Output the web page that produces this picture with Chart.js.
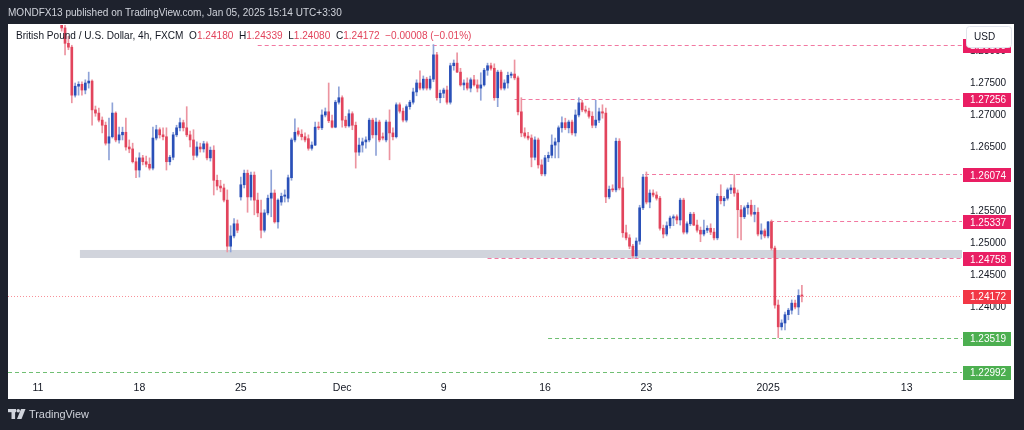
<!DOCTYPE html>
<html>
<head>
<meta charset="utf-8">
<script src="https://cdn.jsdelivr.net/npm/chart.js@4.4.1/dist/chart.umd.min.js"></script>
<style>
html,body{margin:0;padding:0;background:#1e222d;}
canvas{display:block;}
</style>
</head>
<body>
<canvas id="c" width="1024" height="430"></canvas>
<script>
// ---------------- DATA ----------------
// 4h candles, x = slot index (30 slots per trading week, slot 0 = Nov 11)
const firstSlot = 6;
const opens = [
1.2870,1.2858,1.2836,1.2812,1.2806,1.2731,1.2745,1.2748,1.2739,1.2750,
1.2753,1.2708,1.2703,1.2692,1.2684,1.2656,1.2666,1.2703,1.2661,1.2669,
1.2673,1.2650,1.2647,1.2627,1.2614,1.2633,1.2627,1.2623,1.2617,1.2664,
1.2677,1.2669,1.2666,1.2627,1.2634,1.2669,1.2680,1.2688,1.2680,1.2669,
1.2661,1.2637,1.2650,1.2647,1.2655,1.2633,1.2645,1.2598,1.2589,1.2586,
1.2567,1.2495,1.2511,1.2530,1.2572,1.2591,1.2609,1.2572,1.2606,1.2567,
1.2547,1.2520,1.2547,1.2570,1.2578,1.2533,1.2564,1.2573,1.2570,1.2602,
1.2661,1.2675,1.2670,1.2666,1.2663,1.2648,1.2653,1.2681,1.2680,1.2700,
1.2705,1.2691,1.2681,1.2720,1.2727,1.2692,1.2683,1.2702,1.2684,1.2642,
1.2653,1.2658,1.2661,1.2692,1.2669,1.2689,1.2666,1.2661,1.2689,1.2672,
1.2666,1.2716,1.2706,1.2692,1.2713,1.2720,1.2736,1.2750,1.2742,1.2756,
1.2742,1.2756,1.2794,1.2727,1.2734,1.2739,1.2720,1.2777,1.2781,1.2767,
1.2747,1.2750,1.2742,1.2755,1.2747,1.2742,1.2747,1.2770,1.2777,1.2773,
1.2727,1.2767,1.2742,1.2750,1.2762,1.2764,1.2758,1.2705,1.2672,1.2667,
1.2664,1.2634,1.2661,1.2622,1.2608,1.2633,1.2637,1.2653,1.2658,1.2680,
1.2688,1.2680,1.2689,1.2672,1.2700,1.2719,1.2708,1.2706,1.2698,1.2684,
1.2692,1.2705,1.2703,1.2572,1.2584,1.2583,1.2659,1.2586,1.2516,1.2508,
1.2495,1.2480,1.2503,1.2555,1.2603,1.2564,1.2578,1.2575,1.2570,1.2523,
1.2514,1.2527,1.2539,1.2541,1.2536,1.2567,1.2517,1.2530,1.2545,1.2528,
1.2520,1.2514,1.2520,1.2523,1.2517,1.2508,1.2573,1.2566,1.2570,1.2583,
1.2586,1.2578,1.2552,1.2541,1.2555,1.2559,1.2545,1.2548,1.2514,1.2519,
1.2511,1.2533,1.2492,1.2403,1.2369,1.2375,1.2388,1.2395,1.2406,1.2400,
1.24180
];
const highs = [
1.2885,1.2866,1.2840,1.2823,1.2809,1.2750,1.2752,1.2752,1.2755,1.2767,
1.2755,1.2714,1.2711,1.2697,1.2689,1.2695,1.2719,1.2705,1.2681,1.2681,
1.2695,1.2661,1.2656,1.2633,1.2641,1.2637,1.2636,1.2633,1.2681,1.2684,
1.2680,1.2680,1.2680,1.2637,1.2673,1.2684,1.2695,1.2692,1.2713,1.2675,
1.2677,1.2658,1.2656,1.2659,1.2658,1.2650,1.2652,1.2606,1.2598,1.2592,
1.2583,1.2527,1.2538,1.2536,1.2603,1.2614,1.2614,1.2611,1.2611,1.2578,
1.2567,1.2552,1.2575,1.2614,1.2583,1.2569,1.2578,1.2583,1.2606,1.2664,
1.2694,1.2680,1.2677,1.2672,1.2669,1.2658,1.2689,1.2689,1.2708,1.2711,
1.2750,1.2700,1.2723,1.2744,1.2730,1.2698,1.2708,1.2705,1.2689,1.2664,
1.2664,1.2666,1.2695,1.2695,1.2695,1.2692,1.2672,1.2692,1.2708,1.2680,
1.2719,1.2719,1.2711,1.2716,1.2723,1.2742,1.2755,1.2769,1.2761,1.2759,
1.2761,1.2810,1.2798,1.2739,1.2742,1.2745,1.2781,1.2786,1.2797,1.2773,
1.2755,1.2758,1.2758,1.2762,1.2755,1.2766,1.2773,1.2781,1.2781,1.2780,
1.2770,1.2770,1.2755,1.2767,1.2767,1.2786,1.2761,1.2727,1.2680,1.2673,
1.2669,1.2666,1.2664,1.2630,1.2637,1.2642,1.2669,1.2664,1.2683,1.2697,
1.2695,1.2692,1.2692,1.2708,1.2727,1.2723,1.2714,1.2711,1.2705,1.2723,
1.2711,1.2716,1.2711,1.2589,1.2591,1.2664,1.2663,1.2603,1.2528,1.2513,
1.2498,1.2508,1.2559,1.26074,1.2611,1.2583,1.2583,1.2580,1.2573,1.2528,
1.2533,1.2542,1.2544,1.2544,1.2570,1.2570,1.2533,1.2548,1.2548,1.2536,
1.2525,1.2536,1.2527,1.2530,1.2523,1.2577,1.2591,1.2573,1.2586,1.2591,
1.2607,1.2583,1.2559,1.2558,1.2563,1.2567,1.2559,1.2555,1.2530,1.2522,
1.25337,1.2536,1.2495,1.2411,1.2380,1.2392,1.2398,1.2411,1.2411,1.2427,
1.24339
];
const lows = [
1.2852,1.2831,1.2794,1.2802,1.2719,1.2728,1.2731,1.2731,1.2733,1.2742,
1.2684,1.2698,1.2689,1.2672,1.2653,1.2630,1.2664,1.2658,1.2656,1.2661,
1.2645,1.2641,1.2625,1.2602,1.2603,1.2622,1.2619,1.2614,1.2614,1.2661,
1.2664,1.2661,1.2614,1.2622,1.2630,1.2666,1.2675,1.2675,1.2666,1.2650,
1.2630,1.2634,1.2642,1.2642,1.2630,1.2628,1.2575,1.2583,1.2580,1.2564,
1.2486,1.2486,1.2508,1.2516,1.2567,1.2586,1.2548,1.2567,1.2544,1.2541,
1.2508,1.2517,1.2544,1.2541,1.2531,1.2523,1.2559,1.2564,1.2564,1.2598,
1.2658,1.2667,1.2661,1.2658,1.2645,1.2645,1.2652,1.2677,1.2677,1.2697,
1.2688,1.2680,1.2680,1.2717,1.2681,1.2680,1.2681,1.2677,1.2617,1.2637,
1.2642,1.2648,1.2658,1.2664,1.2637,1.2658,1.2661,1.2658,1.2630,1.2661,
1.2664,1.2703,1.2689,1.2689,1.2709,1.2717,1.2730,1.2739,1.2739,1.2739,
1.2739,1.2752,1.2723,1.2719,1.2727,1.2717,1.2717,1.2770,1.2766,1.2745,
1.2739,1.2739,1.2736,1.2745,1.2736,1.2723,1.2745,1.2762,1.2770,1.2723,
1.2713,1.2739,1.2739,1.2742,1.2758,1.2755,1.2700,1.2666,1.2664,1.2661,
1.2619,1.2630,1.2617,1.2605,1.2605,1.2627,1.2633,1.2633,1.2633,1.2673,
1.2677,1.2672,1.2669,1.2667,1.2697,1.2705,1.2703,1.2695,1.2680,1.2680,
1.2688,1.2695,1.2563,1.2569,1.2580,1.2580,1.2583,1.2509,1.2505,1.2491,
1.24758,1.2477,1.2498,1.2552,1.2561,1.2555,1.2572,1.2567,1.2520,1.2508,
1.2511,1.2523,1.2527,1.2530,1.2528,1.2514,1.2514,1.2527,1.2527,1.2517,
1.2502,1.2511,1.2516,1.2513,1.2505,1.2505,1.2561,1.2558,1.2567,1.2577,
1.2573,1.2508,1.2505,1.2538,1.2545,1.2542,1.2533,1.2511,1.2506,1.2508,
1.2508,1.2489,1.2398,1.23519,1.2364,1.2364,1.2380,1.2389,1.2397,1.2388,
1.24080
];
const closes = [
1.2858,1.2836,1.2812,1.2806,1.2731,1.2745,1.2748,1.2739,1.2750,1.2753,
1.2708,1.2703,1.2692,1.2684,1.2656,1.2666,1.2703,1.2661,1.2669,1.2673,
1.2650,1.2647,1.2627,1.2614,1.2633,1.2627,1.2623,1.2617,1.2664,1.2677,
1.2669,1.2666,1.2627,1.2634,1.2669,1.2680,1.2688,1.2680,1.2669,1.2661,
1.2637,1.2650,1.2647,1.2655,1.2633,1.2645,1.2598,1.2589,1.2586,1.2567,
1.2495,1.2511,1.2530,1.2520,1.2591,1.2609,1.2572,1.2606,1.2567,1.2547,
1.2520,1.2547,1.2570,1.2578,1.2533,1.2567,1.2573,1.2575,1.2602,1.2661,
1.2673,1.2670,1.2666,1.2661,1.2648,1.2653,1.2681,1.2680,1.2700,1.2705,
1.2691,1.2681,1.2720,1.2727,1.2692,1.2683,1.2702,1.2684,1.2642,1.2653,
1.2658,1.2661,1.2692,1.2669,1.2689,1.2661,1.2664,1.2689,1.2672,1.2666,
1.2716,1.2706,1.2692,1.2713,1.2720,1.2736,1.2750,1.2742,1.2756,1.2742,
1.2756,1.2794,1.2727,1.2734,1.2739,1.2720,1.2777,1.2781,1.2767,1.2747,
1.2750,1.2742,1.2755,1.2747,1.2742,1.2747,1.2770,1.2777,1.2773,1.2727,
1.2767,1.2742,1.2750,1.2762,1.2764,1.2758,1.2705,1.2672,1.2667,1.2664,
1.2634,1.2661,1.2622,1.2608,1.2633,1.2637,1.2653,1.2658,1.2680,1.2688,
1.2680,1.2689,1.2672,1.2700,1.2719,1.2708,1.2706,1.2698,1.2684,1.2692,
1.2705,1.2703,1.2572,1.2584,1.2583,1.2659,1.2586,1.2516,1.2508,1.2495,
1.2480,1.2503,1.2555,1.2603,1.2564,1.2578,1.2575,1.2570,1.2523,1.2514,
1.2527,1.2539,1.2541,1.2536,1.2567,1.2517,1.2530,1.2545,1.2528,1.2520,
1.2514,1.2520,1.2523,1.2517,1.2508,1.2573,1.2566,1.2570,1.2583,1.2586,
1.2578,1.2552,1.2541,1.2555,1.2559,1.2545,1.2548,1.2514,1.2519,1.2511,
1.2533,1.2492,1.2403,1.2369,1.2375,1.2388,1.2395,1.2406,1.2400,1.2418,
1.24172
];
// time axis
const tickSlots  = [0, 30, 60, 90, 120, 150, 180, 216, 257];
const tickLabels = ['11', '18', '25', 'Dec', '9', '16', '23', '2025', '13'];
// price axis
const priceTicks = [1.230, 1.235, 1.240, 1.245, 1.250, 1.255, 1.260, 1.265, 1.270, 1.275, 1.280];
// horizontal levels drawn on the chart
const levelPrices = [1.28100, 1.27256, 1.26074, 1.25337, 1.24758, 1.24172, 1.23519, 1.22992];
const levelStartSlots = [65, 141, 179.6, 216.6, 133, -9, 150.9, -9];
const levelKinds = ['res', 'res', 'res', 'res', 'res', 'last', 'sup', 'sup'];
// support zone
const zoneLow = 1.24766, zoneHigh = 1.24891, zoneStartSlot = 12.4;

const titleText = 'MONDFX13 published on TradingView.com, Jan 05, 2025 15:14 UTC+3:30';
const symbolText = 'British Pound / U.S. Dollar, 4h, FXCM';
const currency = 'USD';

// ---------------- STYLE ----------------
const UP = '#2a50b8', DOWN = '#e2445c';
const UPW = '#8fa3d8', DOWNW = '#ec94a0';
const KIND_COLOR = {res: '#e91e63', last: '#f23645', sup: '#4caf50'};
const FONT = '"Liberation Sans", Arial, sans-serif';

const xs = opens.map((_, i) => firstSlot + i);
const isUp = i => closes[i] >= opens[i];

function fitFont(ctx, text, weight, target, base) {
  ctx.font = weight + ' ' + base + 'px ' + FONT;
  const w = ctx.measureText(text).width;
  return base * target / w;
}

const decor = {
  id: 'decor',
  beforeDraw(chart) {
    const ctx = chart.ctx;
    ctx.save();
    ctx.fillStyle = '#1e222d';
    ctx.fillRect(0, 0, chart.width, chart.height);
    ctx.fillStyle = '#ffffff';
    ctx.fillRect(8, 24, 1006, 375);
    ctx.restore();
  },
  beforeDatasetsDraw(chart) {
    const ctx = chart.ctx, xS = chart.scales.x, yS = chart.scales.y, a = chart.chartArea;
    ctx.save();
    ctx.beginPath(); ctx.rect(a.left, a.top, a.right - a.left, a.bottom - a.top); ctx.clip();
    // zone
    const zx = xS.getPixelForValue(zoneStartSlot);
    const zt = yS.getPixelForValue(zoneHigh), zb = yS.getPixelForValue(zoneLow);
    ctx.fillStyle = '#d1d4dc';
    ctx.fillRect(zx, zt, a.right - zx, zb - zt);
    // level lines
    levelPrices.forEach((p, i) => {
      const y = Math.round(yS.getPixelForValue(p)) + 0.5;
      const x0 = Math.max(a.left, xS.getPixelForValue(levelStartSlots[i]));
      const k = levelKinds[i];
      ctx.beginPath();
      ctx.lineWidth = 1;
      if (k === 'last') { ctx.setLineDash([1, 2]); ctx.strokeStyle = 'rgba(242,54,69,0.55)'; }
      else if (k === 'sup') { ctx.setLineDash([4, 3]); ctx.strokeStyle = 'rgba(76,175,80,0.8)'; }
      else { ctx.setLineDash([4, 3]); ctx.strokeStyle = 'rgba(233,30,99,0.6)'; }
      ctx.moveTo(x0, y); ctx.lineTo(a.right, y); ctx.stroke();
    });
    ctx.restore();
  },
  afterDraw(chart) {
    const ctx = chart.ctx, yS = chart.scales.y;
    ctx.save();
    // price labels
    ctx.textBaseline = 'middle';
    levelPrices.forEach((p, i) => {
      const y = yS.getPixelForValue(p) + 1;
      ctx.fillStyle = KIND_COLOR[levelKinds[i]];
      ctx.fillRect(963, Math.round(y - 7), 48, 14);
      ctx.fillStyle = '#ffffff';
      ctx.font = '10px ' + FONT;
      ctx.fillText(p.toFixed(5), 970, y + 0.5);
    });
    // currency box
    ctx.fillStyle = '#ffffff';
    ctx.strokeStyle = '#e0e3eb';
    ctx.lineWidth = 1;
    ctx.beginPath();
    if (ctx.roundRect) ctx.roundRect(966.5, 26.5, 45, 21, 3); else ctx.rect(966.5, 26.5, 45, 21);
    ctx.fill(); ctx.stroke();
    ctx.fillStyle = '#131722';
    ctx.font = '10px ' + FONT;
    ctx.fillText(currency, 974, 37.5);
    // title
    ctx.fillStyle = '#d1d4dc';
    const tfs = fitFont(ctx, titleText, '400', 334, 12);
    ctx.font = tfs.toFixed(2) + 'px ' + FONT;
    ctx.fillText(titleText, 8, 13);
    // symbol legend
    const n = closes.length - 1;
    const chg = closes[n] - closes[n - 1];
    const pct = chg / closes[n - 1] * 100;
    const parts = [
      [symbolText + '  ', '#131722'],
      ['O', '#131722'], [opens[n].toFixed(5), DOWN],
      ['  H', '#131722'], [highs[n].toFixed(5), DOWN],
      ['  L', '#131722'], [lows[n].toFixed(5), DOWN],
      ['  C', '#131722'], [closes[n].toFixed(5), DOWN],
      ['  ' + (chg < 0 ? '\u2212' : '+') + Math.abs(chg).toFixed(5) + ' (' + (pct < 0 ? '\u2212' : '+') + Math.abs(pct).toFixed(2) + '%)', DOWN]
    ];
    const full = parts.map(p => p[0]).join('');
    const lfs = fitFont(ctx, full, '400', 456, 12);
    ctx.font = lfs.toFixed(2) + 'px ' + FONT;
    let x = 16;
    parts.forEach(([t, c]) => { ctx.fillStyle = c; ctx.fillText(t, x, 36.5); x += ctx.measureText(t).width; });
    // TradingView logo
    ctx.fillStyle = '#d1d4dc';
    ctx.fillRect(8, 409, 8, 3.2);
    ctx.fillRect(11.5, 409, 3.6, 10);
    ctx.beginPath(); ctx.arc(18.2, 410.7, 1.8, 0, Math.PI * 2); ctx.fill();
    ctx.beginPath(); ctx.moveTo(21, 409); ctx.lineTo(25.5, 409); ctx.lineTo(21.5, 419); ctx.lineTo(17, 419); ctx.closePath(); ctx.fill();
    const bfs = fitFont(ctx, 'TradingView', '400', 60, 12);
    ctx.font = bfs.toFixed(2) + 'px ' + FONT;
    ctx.fillText('TradingView', 29, 414.5);
    ctx.restore();
  }
};

new Chart(document.getElementById('c'), {
  type: 'bar',
  data: {
    datasets: [
      {
        label: 'body',
        order: 0,
        data: xs.map((x, i) => ({x, y: [opens[i], closes[i]]})),
        backgroundColor: xs.map((_, i) => isUp(i) ? UP : DOWN),
        barThickness: 2,
        minBarLength: 1,
        grouped: false,
        borderWidth: 0
      },
      {
        label: 'wick',
        order: 1,
        data: xs.map((x, i) => ({x, y: [lows[i], highs[i]]})),
        backgroundColor: xs.map((_, i) => isUp(i) ? UPW : DOWNW),
        barThickness: 1,
        grouped: false,
        borderWidth: 0
      }
    ]
  },
  options: {
    responsive: false,
    devicePixelRatio: 1,
    animation: false,
    layout: {padding: {left: 8, top: 25, right: 10, bottom: 31}},
    plugins: {legend: {display: false}, tooltip: {enabled: false}, title: {display: false}},
    scales: {
      x: {
        type: 'linear',
        offset: false,
        min: -8.876,
        max: 273.37,
        grid: {display: false, drawTicks: false, offset: false},
        border: {display: false},
        afterBuildTicks: s => { s.ticks = tickSlots.map(v => ({value: v})); },
        afterFit: s => { s.height = 21; },
        ticks: {
          autoSkip: false, maxRotation: 0, padding: 4,
          color: '#131722', font: {family: FONT, size: 10.5},
          callback: v => { const k = tickSlots.indexOf(v); return k >= 0 ? tickLabels[k] : ''; }
        }
      },
      y: {
        position: 'right',
        min: 1.2289063,
        max: 1.2840625,
        grid: {display: false, drawTicks: false},
        border: {display: false},
        afterBuildTicks: s => { s.ticks = priceTicks.map(v => ({value: v})); },
        afterFit: s => { s.width = 52; },
        ticks: {
          padding: 8, color: '#131722', font: {family: FONT, size: 10},
          callback: v => Number(v).toFixed(5)
        }
      }
    }
  },
  plugins: [decor]
});
</script>
</body>
</html>
